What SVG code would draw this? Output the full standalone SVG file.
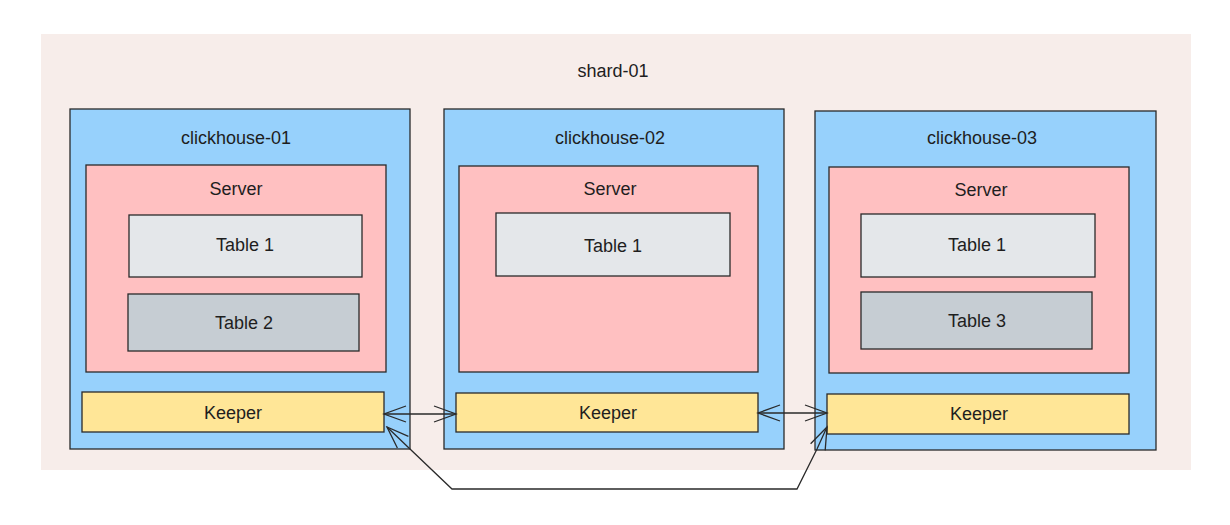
<svg xmlns="http://www.w3.org/2000/svg" width="1230" height="525" viewBox="0 0 1230 525">
<defs>
<style>
text{font-family:"Liberation Sans",Arial,sans-serif;font-size:18px;fill:#1e1e1e;text-anchor:middle;dominant-baseline:central}
.b{stroke:#2a2a2a;stroke-width:1.3}
.host{fill:#97d1fc}
.srv{fill:#ffc0c1}
.t1{fill:#e4e7ea}
.t2{fill:#c6cdd3}
.kp{fill:#ffe697}
.conn{fill:none;stroke:#2a2a2a;stroke-width:1.3}
</style>
<marker id="arr" viewBox="-24 -10 26 20" refX="0" refY="0" markerWidth="26" markerHeight="20" markerUnits="userSpaceOnUse" orient="auto-start-reverse">
<path d="M-22,-8 L0,0 L-22,8" fill="none" stroke="#2a2a2a" stroke-width="1.3"/>
</marker>
</defs>
<rect width="1230" height="525" fill="#ffffff"/>
<g id="shard-01">
<rect x="41" y="34" width="1150" height="436" fill="#f7edea"/>
<text x="613" y="71">shard-01</text>
</g>
<g id="clickhouse-01">
<rect class="b host" x="70" y="109" width="340" height="340"/>
<text x="236" y="138">clickhouse-01</text>
</g>
<g id="server-01">
<rect class="b srv" x="86" y="165" width="300" height="207"/>
<text x="236" y="189">Server</text>
</g>
<g id="ch01-table1">
<rect class="b t1" x="129" y="215" width="233" height="62"/>
<text x="245" y="245">Table 1</text>
</g>
<g id="ch01-table2">
<rect class="b t2" x="128" y="294" width="231" height="57"/>
<text x="244" y="323">Table 2</text>
</g>
<g id="keeper-01">
<rect class="b kp" x="82" y="392" width="302" height="40"/>
<text x="233" y="413">Keeper</text>
</g>
<g id="clickhouse-02">
<rect class="b host" x="444" y="109" width="340" height="340"/>
<text x="610" y="138">clickhouse-02</text>
</g>
<g id="server-02">
<rect class="b srv" x="459" y="166" width="299" height="206"/>
<text x="610" y="189">Server</text>
</g>
<g id="ch02-table1">
<rect class="b t1" x="496" y="213" width="234" height="63"/>
<text x="613" y="246">Table 1</text>
</g>
<g id="keeper-02">
<rect class="b kp" x="456" y="393" width="302" height="39"/>
<text x="608" y="413">Keeper</text>
</g>
<g id="clickhouse-03">
<rect class="b host" x="815" y="111" width="341" height="339"/>
<text x="982" y="138">clickhouse-03</text>
</g>
<g id="server-03">
<rect class="b srv" x="829" y="167" width="300" height="206"/>
<text x="981" y="190">Server</text>
</g>
<g id="ch03-table1">
<rect class="b t1" x="861" y="214" width="234" height="63"/>
<text x="977" y="245">Table 1</text>
</g>
<g id="ch03-table3">
<rect class="b t2" x="861" y="292" width="231" height="57"/>
<text x="977" y="321">Table 3</text>
</g>
<g id="keeper-03">
<rect class="b kp" x="827" y="394" width="302" height="40"/>
<text x="979" y="414">Keeper</text>
</g>
<g id="connectors">
<path class="conn" d="M384,414 L456,414" marker-start="url(#arr)" marker-end="url(#arr)"/>
<path class="conn" d="M758,413 L827,413" marker-start="url(#arr)" marker-end="url(#arr)"/>
<path class="conn" d="M387,427 L410,449 L452,489 L797,489 L817,449 L827,427" marker-start="url(#arr)" marker-end="url(#arr)"/>
</g>
</svg>
